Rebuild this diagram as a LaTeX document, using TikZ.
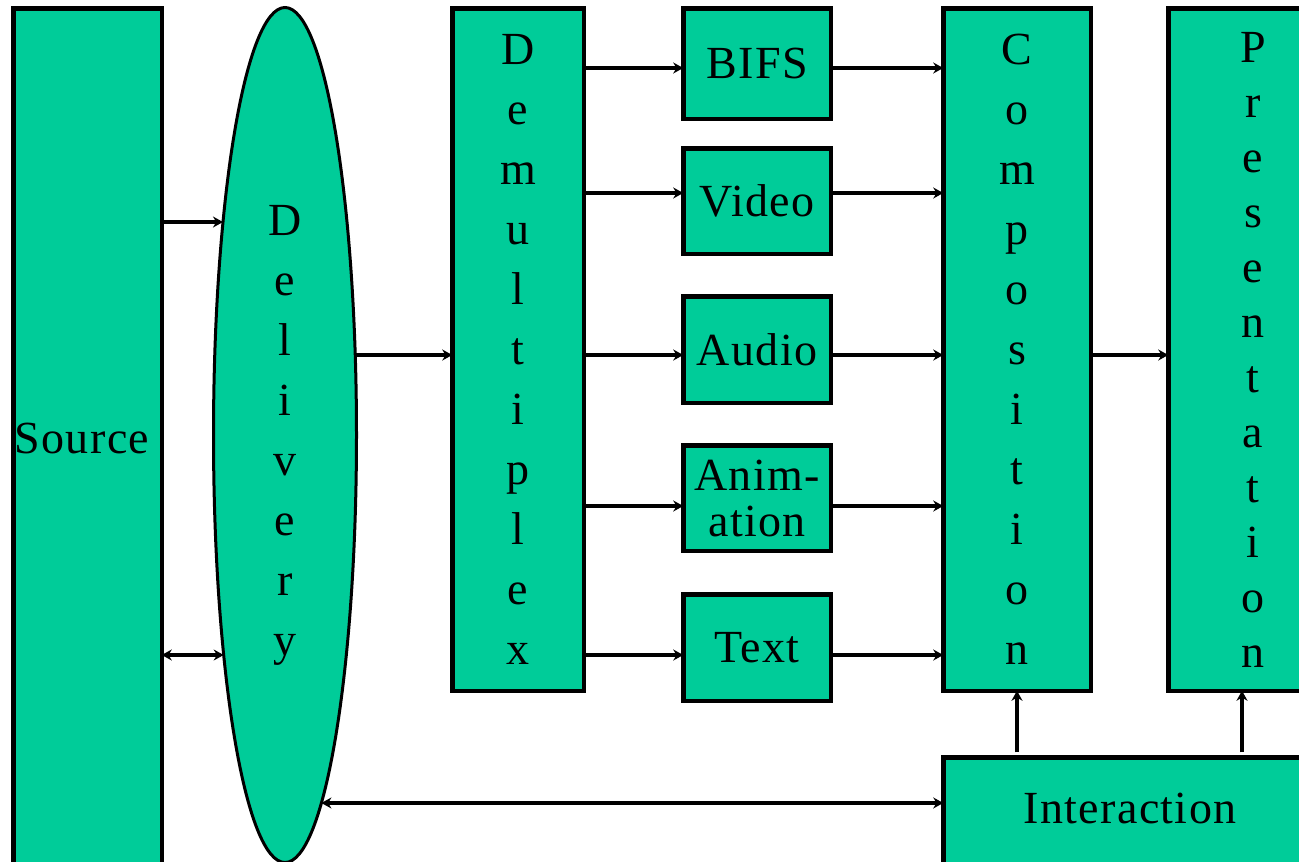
\documentclass[tikz,border=0pt]{standalone}
\usepackage{fontspec}
\setmainfont{Liberation Serif}
\usetikzlibrary{arrows.meta,shapes.geometric,intersections}
\definecolor{boxgreen}{RGB}{0,204,153}
\tikzset{
  box/.style={draw=black, fill=boxgreen, line width=4.5pt, inner sep=0pt, outer sep=0pt,
    font=\fontsize{46}{52}\selectfont\addfontfeature{LetterSpace=3}, align=center},
  stack/.style={font=\fontsize{46}{60}\selectfont},
  arr/.style={draw=black, line width=4pt, -{Stealth[length=10pt,width=11pt]}},
  biarr/.style={draw=black, line width=4pt, {Stealth[length=10pt,width=11pt]}-{Stealth[length=10pt,width=11pt]}},
  lbl/.style={font=\fontsize{46}{52}\selectfont\addfontfeature{LetterSpace=3}, inner sep=0pt}
}
\begin{document}
\begin{tikzpicture}[x=1pt,y=-1pt]
\useasboundingbox (0,0) rectangle (1299,862);
\fill[white] (0,0) rectangle (1299,862);
\clip (0,0) rectangle (1299,862);

% blocks of the decoding chain
\node[box, minimum width=148.5, minimum height=909.5] (src) at (87.5,463) {};
\node[lbl] at (82,438) {Source};

\node[ellipse, name path=delivborder, draw=black, fill=boxgreen, line width=3pt, inner sep=0pt,
      outer sep=0pt, minimum width=143, minimum height=855, stack, align=center]
      (deliv) at (285,435) {D\\e\\l\\i\\v\\e\\r\\y};

\node[box, stack, minimum width=131.5, minimum height=682.5] (demux) at (518,349.5)
      {D\\e\\m\\u\\l\\t\\i\\p\\l\\e\\x};

\node[box, minimum width=147.5, minimum height=110.5] (bifs)  at (757,63.5)  {BIFS};
\node[box, minimum width=147.5, minimum height=105.5] (video) at (757,201)   {Video};
\node[box, minimum width=147.5, minimum height=106.5] (audio) at (757,349.5) {Audio};
\node[box, minimum width=147.5, minimum height=105.5, font=\fontsize{46}{46}\selectfont\addfontfeature{LetterSpace=3}]
      (anim)  at (757,498)   {Anim-\\ation};
\node[box, minimum width=147.5, minimum height=106.5] (text)  at (757,647.5) {Text};

\node[box, stack, minimum width=147.5, minimum height=682.5] (comp) at (1017,349.5)
      {C\\o\\m\\p\\o\\s\\i\\t\\i\\o\\n};

\node[box, minimum width=169.5, minimum height=682.5, font=\fontsize{46}{55}\selectfont]
      (pres) at (1253,349.5) {P\\r\\e\\s\\e\\n\\t\\a\\t\\i\\o\\n};

\node[box, minimum width=394.5, minimum height=160.5] (inter) at (1140.5,837.5) {};
\node[lbl] at (1130,808) {Interaction};

% rows where the connectors meet the Delivery ellipse
\path[name path=rowA] (285,222) -- (0,222);
\path[name path=rowB] (285,655) -- (0,655);
\path[name path=rowC] (285,355) -- (600,355);
\path[name path=rowD] (285,803) -- (600,803);
\path[name intersections={of=delivborder and rowA, by=dA}];
\path[name intersections={of=delivborder and rowB, by=dB}];
\path[name intersections={of=delivborder and rowC, by=dC}];
\path[name intersections={of=delivborder and rowD, by=dD}];

% connectors
\draw[arr]   (dA -| src.east) -- (dA);
\draw[biarr] (dB -| src.east) -- (dB);
\draw[arr]   (dC) -- (dC -| demux.west);

\draw[arr] (demux.east |- 0,68)  -- (bifs.west |- 0,68);
\draw[arr] (demux.east |- 0,193) -- (video.west |- 0,193);
\draw[arr] (demux.east |- 0,355) -- (audio.west |- 0,355);
\draw[arr] (demux.east |- 0,506) -- (anim.west |- 0,506);
\draw[arr] (demux.east |- 0,655) -- (text.west |- 0,655);

\draw[arr] (bifs.east |- 0,68)   -- (comp.west |- 0,68);
\draw[arr] (video.east |- 0,193) -- (comp.west |- 0,193);
\draw[arr] (audio.east |- 0,355) -- (comp.west |- 0,355);
\draw[arr] (anim.east |- 0,506)  -- (comp.west |- 0,506);
\draw[arr] (text.east |- 0,655)  -- (comp.west |- 0,655);

\draw[arr] (comp.east |- 0,355) -- (pres.west |- 0,355);

\draw[arr] (inter.north -| comp) ++(0,-5) -- (comp.south);
\draw[arr] (inter.north -| 1242,0) ++(0,-5) -- (pres.south -| 1242,0);

\draw[biarr] (dD) -- (dD -| inter.west);
\end{tikzpicture}
\end{document}
